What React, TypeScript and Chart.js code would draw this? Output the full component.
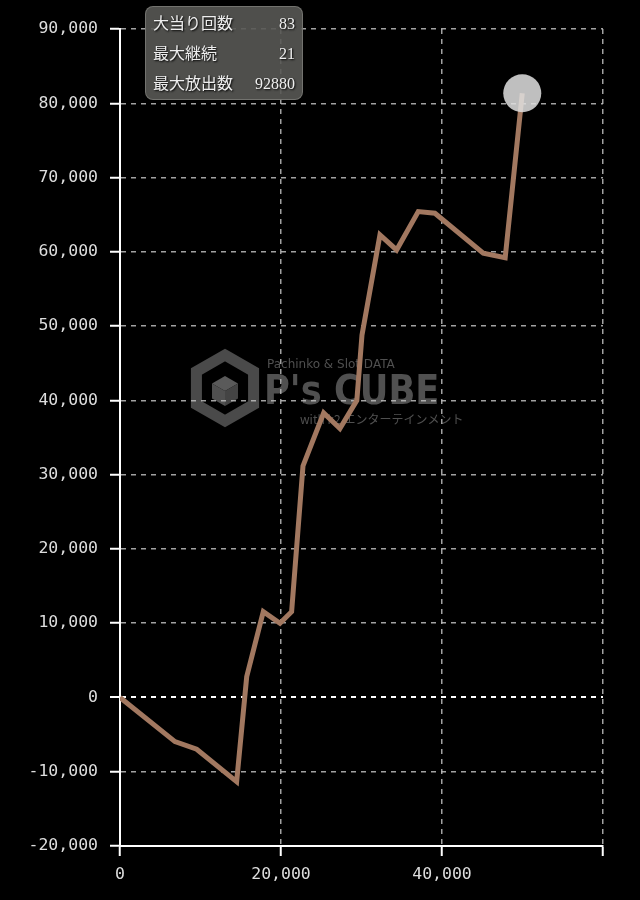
import React, { useEffect, useRef } from "react";
import { Chart, registerables } from "chart.js";

Chart.register(...registerables);

const spins: number[] = [0, 6830, 9525, 14490, 15740, 17800, 19870, 21320, 22730, 25300, 27320, 29420, 30060, 32290, 34360, 37050, 39120, 45120, 47850, 49970];
const balance: number[] = [0, -5950, -6975, -11340, 2800, 11550, 9990, 11550, 31170, 38300, 36200, 40000, 48800, 62270, 60250, 65410, 65190, 59810, 59200, 81350];

const statLabels: string[] = ["大当り回数", "最大継続", "最大放出数"];
const statValues: string[] = ["83", "21", "92880"];

const watermark = {
  id: "watermark",
  beforeDraw(chart: any) {
    const ctx = chart.ctx as CanvasRenderingContext2D;
    ctx.save();
    ctx.fillStyle = "#000";
    ctx.fillRect(0, 0, chart.width, chart.height);
    const cx = 225, cy = 388, r = 33;
    ctx.strokeStyle = "#4a4a4a";
    ctx.lineWidth = 11;
    ctx.beginPath();
    for (let i = 0; i < 6; i++) {
      const a = Math.PI / 3 * i - Math.PI / 2;
      const x = cx + r * Math.cos(a), y = cy + r * Math.sin(a);
      if (i === 0) ctx.moveTo(x, y); else ctx.lineTo(x, y);
    }
    ctx.closePath();
    ctx.stroke();
    const ir = 15, icx = cx, icy = cy + 3;
    const pt = (k: number) => {
      const a = Math.PI / 3 * k - Math.PI / 2;
      return [icx + ir * Math.cos(a), icy + ir * Math.sin(a)];
    };
    const faces: [number[], string][] = [
      [[0, 1, -1, 5], "#5a5a5a"],
      [[1, 2, 3, -1], "#444"],
      [[3, 4, 5, -1], "#505050"],
    ];
    for (const [idx, col] of faces) {
      ctx.fillStyle = col;
      ctx.beginPath();
      idx.forEach((k, j) => {
        const p = k < 0 ? [icx, icy] : pt(k);
        if (j === 0) ctx.moveTo(p[0], p[1]); else ctx.lineTo(p[0], p[1]);
      });
      ctx.closePath();
      ctx.fill();
    }
    ctx.fillStyle = "#505050";
    ctx.textBaseline = "alphabetic";
    ctx.textAlign = "left";
    ctx.font = "12px 'DejaVu Sans'";
    ctx.fillText("Pachinko & Slot DATA", 267, 368);
    ctx.font = "bold 41px 'DejaVu Sans'";
    ctx.save();
    ctx.translate(264, 404);
    ctx.scale(0.86, 1);
    ctx.fillText("P's CUBE", 0, 0);
    ctx.restore();
    ctx.font = "12px 'Noto Sans CJK JP'";
    ctx.fillText("with k2 エンターテインメント", 300, 424);
    ctx.restore();
  },
};

const fmt = (v: number) => Math.round(v).toLocaleString("en-US");

export default function App() {
  const ref = useRef<HTMLCanvasElement | null>(null);
  useEffect(() => {
    document.body.style.margin = "0";
    document.body.style.background = "#000";
    const canvas = ref.current!;
    const last = spins.length - 1;
    const chart = new Chart(canvas, {
      type: "line",
      data: {
        datasets: [
          {
            data: spins.map((x, i) => ({ x, y: balance[i] })),
            borderColor: "#a27860",
            borderWidth: 5,
            tension: 0,
            fill: false,
            pointRadius: (c: any) => (c.dataIndex === last ? 19 : 0),
            pointHoverRadius: (c: any) => (c.dataIndex === last ? 19 : 0),
            pointBackgroundColor: "rgba(225,225,225,0.85)",
            pointBorderWidth: 0,
          },
        ],
      },
      options: {
        animation: false,
        responsive: false,
        maintainAspectRatio: false,
        layout: { padding: { top: 29, right: 37, left: 0, bottom: 0 } },
        plugins: { legend: { display: false }, tooltip: { enabled: false } },
        scales: {
          x: {
            type: "linear",
            min: 0,
            max: 60000,
            afterFit: (s: any) => { s.height = 54; },
            ticks: {
              stepSize: 20000,
              color: "#ddd",
              font: { family: "'DejaVu Sans Mono'", size: 16.5 },
              padding: 9,
              maxRotation: 0,
              autoSkip: false,
              callback: (v: any) => (v === 60000 ? "" : fmt(v)),
            },
            grid: {
              color: (c: any) => (c.tick && c.tick.value === 0 ? "#fff" : "rgba(190,190,190,0.85)"),
              lineWidth: 1.5,
              tickLength: 10,
              tickColor: "#fff",
              tickWidth: 2,
            },
            border: { color: "#fff", width: 2, dash: [5, 5] },
          },
          y: {
            type: "linear",
            min: -20000,
            max: 90000,
            afterFit: (s: any) => { s.width = 120; },
            ticks: {
              stepSize: 10000,
              color: "#ddd",
              font: { family: "'DejaVu Sans Mono'", size: 16.5 },
              padding: 12,
              autoSkip: false,
              callback: (v: any) => fmt(v),
            },
            grid: {
              color: (c: any) => (c.tick && c.tick.value === 0 ? "#fff" : "rgba(190,190,190,0.85)"),
              lineWidth: (c: any) => (c.tick && c.tick.value === 0 ? 2 : 1.5),
              tickLength: 10,
              tickColor: "#fff",
              tickWidth: 2,
            },
            border: { color: "#fff", width: 2, dash: [5, 5] },
          },
        },
      } as any,
      plugins: [watermark],
    });
    return () => chart.destroy();
  }, []);

  return (
    <div style={{ position: "relative", width: 640, height: 900, background: "#000" }}>
      <canvas ref={ref} width={640} height={900} style={{ display: "block", width: 640, height: 900 }} />
      <div
        style={{
          position: "absolute",
          left: 145,
          top: 6,
          width: 158,
          height: 94,
          background: "rgba(88,88,84,0.9)",
          borderRadius: 8,
          border: "1px solid rgba(140,140,135,0.6)",
          boxSizing: "border-box",
          padding: "2px 7px 0 7px",
          color: "#eee",
          fontFamily: "'Liberation Serif', 'Noto Sans CJK JP', serif",
          fontSize: 16,
          textShadow: "1px 1px 2px #000",
        }}
      >
        {statLabels.map((l, i) => (
          <div key={l} style={{ display: "flex", justifyContent: "space-between", height: 30, lineHeight: "30px" }}>
            <span>{l}</span>
            <span>{statValues[i]}</span>
          </div>
        ))}
      </div>
    </div>
  );
}
